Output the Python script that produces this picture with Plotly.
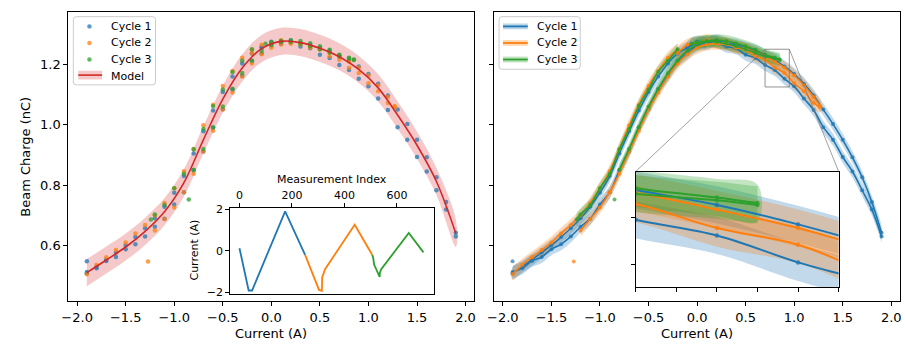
import plotly.graph_objects as go

# ---------------- data ----------------
model_I = [-1.9, -1.7, -1.5, -1.3, -1.1, -0.9, -0.7, -0.5, -0.3, -0.1,
           0.1, 0.3, 0.5, 0.7, 0.9, 1.1, 1.3, 1.5, 1.7, 1.9]
model_Q = [0.510, 0.552, 0.595, 0.647, 0.712, 0.808, 0.950, 1.085, 1.188, 1.252,
           1.276, 1.272, 1.253, 1.225, 1.183, 1.122, 1.032, 0.932, 0.812, 0.640]
model_band = 0.045      # half width of the model uncertainty band (nC)
fit_band = 0.02         # half width of the per-cycle fit bands (nC)

# Cycle 1
c1_a_I = [0.1, 0.0, -0.1, -0.2, -0.3, -0.4, -0.5, -0.6, -0.7, -0.8, -0.9, -1.0,
          -1.1, -1.2, -1.3, -1.4, -1.5, -1.6, -1.7, -1.8, -1.9]
c1_a_Q = [1.272, 1.270, 1.255, 1.236, 1.203, 1.160, 1.108, 1.047, 0.978, 0.905, 0.830, 0.775,
          0.728, 0.690, 0.657, 0.628, 0.601, 0.577, 0.553, 0.530, 0.508]
c1_b_I = [-1.9, -1.8, -1.7, -1.6, -1.5, -1.4, -1.3, -1.2, -1.1, -1.0, -0.9, -0.8, -0.7,
          -0.6, -0.5, -0.4, -0.3, -0.2, -0.1, 0.0, 0.1, 0.2, 0.3, 0.4, 0.5, 0.6, 0.7,
          0.8, 0.9, 1.0, 1.1, 1.2, 1.3, 1.4, 1.5, 1.6, 1.7, 1.8, 1.9]
c1_b_Q = [0.512, 0.525, 0.549, 0.562, 0.588, 0.604, 0.630, 0.662, 0.689, 0.736, 0.776, 0.849, 0.911,
          0.990, 1.051, 1.117, 1.162, 1.210, 1.236, 1.262, 1.268, 1.279, 1.270, 1.265, 1.255, 1.246, 1.230,
          1.214, 1.193, 1.168, 1.136, 1.097, 1.050, 1.002, 0.950, 0.892, 0.826, 0.744, 0.642]
c1_c_I = [1.9, 1.8, 1.7, 1.6, 1.5, 1.4, 1.3, 1.2, 1.1, 1.0, 0.9, 0.8, 0.7, 0.6, 0.5,
          0.4, 0.3, 0.2, 0.1, 0.0, -0.1]
c1_c_Q = [0.630, 0.719, 0.783, 0.845, 0.893, 0.950, 0.992, 1.049, 1.087, 1.127, 1.152, 1.181, 1.198,
          1.221, 1.232, 1.253, 1.259, 1.275, 1.273, 1.275, 1.257]

# Cycle 2
c2_a_I = [-0.2, -0.3, -0.4, -0.5, -0.6, -0.7, -0.8, -0.9, -1.0, -1.1, -1.2, -1.3,
          -1.4, -1.5, -1.6, -1.7, -1.8, -1.9]
c2_a_Q = [1.248, 1.222, 1.178, 1.128, 1.066, 0.998, 0.920, 0.846, 0.790, 0.741, 0.700, 0.668,
          0.640, 0.610, 0.585, 0.561, 0.536, 0.505]
c2_b_I = [-1.2, -1.1, -1.0, -0.9, -0.8, -0.7, -0.6, -0.5, -0.4, -0.3, -0.2, -0.1, 0.0,
          0.1, 0.2, 0.3, 0.4, 0.5, 0.6, 0.7, 0.8, 0.9, 1.0, 1.1, 1.2, 1.27]
c2_b_Q = [0.650, 0.688, 0.726, 0.776, 0.838, 0.911, 0.980, 1.050, 1.107, 1.160, 1.203, 1.233, 1.255,
          1.266, 1.268, 1.266, 1.259, 1.252, 1.240, 1.227, 1.209, 1.189, 1.163, 1.131, 1.092, 1.062]
c2_c_I = [1.27, 1.2, 1.1, 1.0, 0.9, 0.8, 0.7, 0.6, 0.5, 0.4, 0.3, 0.2, 0.1, 0.0, -0.1, -0.2]
c2_c_Q = [1.058, 1.072, 1.111, 1.137, 1.171, 1.189, 1.215, 1.227, 1.249, 1.255, 1.270, 1.272,
          1.280, 1.271, 1.265, 1.237]

# Cycle 3
c3_a_I = [-0.2, -0.3, -0.4, -0.5, -0.6, -0.7, -0.8, -0.9, -1.0, -1.1, -1.2, -1.24]
c3_a_Q = [1.250, 1.212, 1.175, 1.117, 1.062, 0.986, 0.919, 0.838, 0.790, 0.734, 0.703, 0.686]
c3_b_I = [-0.8, -0.7, -0.6, -0.5, -0.4, -0.3, -0.2, -0.1, 0.0, 0.1, 0.2, 0.3, 0.4,
          0.5, 0.6, 0.7, 0.8, 0.85]
c3_b_Q = [0.851, 0.920, 0.992, 1.060, 1.119, 1.171, 1.213, 1.245, 1.265, 1.276, 1.280, 1.277, 1.270,
          1.260, 1.248, 1.232, 1.222, 1.216]
c3_c_I = [0.85, 0.8, 0.7, 0.6, 0.5, 0.4, 0.3, 0.2, 0.1, 0.0, -0.06]
c3_c_Q = [1.214, 1.219, 1.226, 1.238, 1.250, 1.260, 1.268, 1.274, 1.277, 1.273, 1.268]

# first points after current jumps (outliers)
outlier_I = [-1.9, -1.27, -0.85]
outlier_Q = [0.548, 0.547, 0.752]
outlier_cycle = [0, 1, 2]

# current waveform vs. measurement index (inset)
c1_wave_idx = [0, 35, 48, 174, 250]
c1_wave_I = [0.13, -1.91, -1.91, 1.91, -0.19]
c2_wave_idx = [250, 303, 314, 315, 326, 439, 506]
c2_wave_I = [-0.19, -1.88, -1.92, -1.28, -0.88, 1.26, -0.20]
c3_wave_idx = [506, 509, 513, 534, 535, 540, 645, 701]
c3_wave_I = [-0.20, -0.31, -0.66, -1.25, -1.05, -0.88, 0.86, -0.07]

cycle_names = ["Cycle 1", "Cycle 2", "Cycle 3"]
cycle_sweeps = [
    [(c1_a_I, c1_a_Q), (c1_b_I, c1_b_Q), (c1_c_I, c1_c_Q)],
    [(c2_a_I, c2_a_Q), (c2_b_I, c2_b_Q), (c2_c_I, c2_c_Q)],
    [(c3_a_I, c3_a_Q), (c3_b_I, c3_b_Q), (c3_c_I, c3_c_Q)],
]
waves = [(c1_wave_idx, c1_wave_I), (c2_wave_idx, c2_wave_I), (c3_wave_idx, c3_wave_I)]

x_ticks = [-2.0, -1.5, -1.0, -0.5, 0.0, 0.5, 1.0, 1.5, 2.0]
x_ticklabels = ["\u22122.0", "\u22121.5", "\u22121.0", "\u22120.5", "0.0", "0.5", "1.0", "1.5", "2.0"]
y_ticks = [0.6, 0.8, 1.0, 1.2]
y_ticklabels = ["0.6", "0.8", "1.0", "1.2"]
inset_x_ticks = [0, 200, 400, 600]
inset_y_ticks = [-2, 0, 2]
inset_y_ticklabels = ["\u22122", "0", "2"]
zoom_x = [0.70, 0.95]
zoom_y = [1.125, 1.25]
zoom_x_ticks = [0.70, 0.75, 0.80, 0.85, 0.90, 0.95]
zoom_y_ticks = [1.15, 1.20]

# ---------------- styling ----------------
W, H = 905, 346
FONT = "DejaVu Sans"
COLORS = ["#1f77b4", "#ff7f0e", "#2ca02c"]
RGB = [(31, 119, 180), (255, 127, 14), (44, 160, 44)]
RED = "#d62728"
X_RANGE = [-2.09, 2.09]
Y_RANGE = [0.416, 1.374]


def dom_x(a, b):
    return [a / W, b / W]


def dom_y(top, bottom):
    return [1 - bottom / H, 1 - top / H]


def px(x):
    return x / W


def py(y):
    return 1 - y / H


D1X, D1Y = dom_x(62, 472), dom_y(8, 305)
D2X, D2Y = dom_x(492, 902), dom_y(8, 305)
D3X, D3Y = dom_x(225, 431), dom_y(209, 298)
D4X, D4Y = dom_x(635, 840), dom_y(172, 291)

fig = go.Figure()

# ---------- left panel ----------
band_x = model_I + model_I[::-1]
band_y = [q + model_band for q in model_Q] + [q - model_band for q in model_Q][::-1]
fig.add_trace(go.Scatter(x=band_x, y=band_y, mode="lines", fill="toself",
                         fillcolor="rgba(214,39,40,0.25)", line=dict(width=0, shape="spline"),
                         hoverinfo="skip", showlegend=False, xaxis="x", yaxis="y"))
for k, sweeps in enumerate(cycle_sweeps):
    xs, ys = [], []
    for I, Q in sweeps:
        xs += I
        ys += Q
    for I, Q, c in zip(outlier_I, outlier_Q, outlier_cycle):
        if c == k:
            xs.append(I)
            ys.append(Q)
    fig.add_trace(go.Scatter(x=xs, y=ys, mode="markers", name=cycle_names[k],
                             marker=dict(color=COLORS[k], size=4.5, opacity=0.75),
                             showlegend=False, xaxis="x", yaxis="y"))
fig.add_trace(go.Scatter(x=model_I, y=model_Q, mode="lines", name="Model",
                         line=dict(color=RED, width=1.6, shape="spline"),
                         showlegend=False, xaxis="x", yaxis="y"))

# ---------- right panel and its zoom inset ----------
for xa, ya, lw, ms in (("x2", "y2", 1.6, 4), ("x4", "y4", 2.0, 4.5)):
    # all uncertainty bands first
    for k, sweeps in enumerate(cycle_sweeps):
        r, g, b = RGB[k]
        for I, Q in sweeps:
            fig.add_trace(go.Scatter(
                x=I + I[::-1],
                y=[q + fit_band for q in Q] + [q - fit_band for q in Q][::-1],
                mode="lines", fill="toself", fillcolor=f"rgba({r},{g},{b},0.28)",
                line=dict(width=0, shape="spline"), hoverinfo="skip",
                showlegend=False, xaxis=xa, yaxis=ya))
    # then measurements and fitted lines
    for k, sweeps in enumerate(cycle_sweeps):
        for I, Q in sweeps:
            fig.add_trace(go.Scatter(
                x=I, y=Q, mode="lines+markers",
                line=dict(color=COLORS[k], width=lw, shape="spline"),
                marker=dict(color=COLORS[k], size=ms, opacity=0.8),
                showlegend=False, xaxis=xa, yaxis=ya))
        oi = [I for I, c in zip(outlier_I, outlier_cycle) if c == k]
        oq = [Q for Q, c in zip(outlier_Q, outlier_cycle) if c == k]
        fig.add_trace(go.Scatter(x=oi, y=oq, mode="markers",
                                 marker=dict(color=COLORS[k], size=ms, opacity=0.7),
                                 showlegend=False, xaxis=xa, yaxis=ya))

# ---------- waveform inset ----------
for k, (idx, cur) in enumerate(waves):
    fig.add_trace(go.Scatter(x=idx, y=cur, mode="lines",
                             line=dict(color=COLORS[k], width=1.8),
                             showlegend=False, xaxis="x3", yaxis="y3"))

# ---------------- axes ----------------
axis_common = dict(showline=True, linecolor="black", linewidth=1, mirror=True,
                   ticks="outside", ticklen=4, tickwidth=1, tickcolor="black",
                   showgrid=False, zeroline=False,
                   tickfont=dict(family=FONT, size=13, color="black"))
small_font = dict(family=FONT, size=11, color="black")

fig.update_layout(
    width=W, height=H, margin=dict(l=0, r=0, t=0, b=0),
    paper_bgcolor="white", plot_bgcolor="white", showlegend=False,
    xaxis=dict(axis_common, domain=D1X, range=X_RANGE, tickvals=x_ticks,
               ticktext=x_ticklabels, anchor="y"),
    yaxis=dict(axis_common, domain=D1Y, range=Y_RANGE, tickvals=y_ticks,
               ticktext=y_ticklabels, anchor="x"),
    xaxis2=dict(axis_common, domain=D2X, range=X_RANGE, tickvals=x_ticks,
                ticktext=x_ticklabels, anchor="y2"),
    yaxis2=dict(axis_common, domain=D2Y, range=Y_RANGE, tickvals=y_ticks,
                showticklabels=False, anchor="x2"),
    xaxis3=dict(axis_common, domain=D3X, range=[-37, 740], tickvals=inset_x_ticks,
                side="top", tickfont=small_font, ticklen=3.5, anchor="y3"),
    yaxis3=dict(axis_common, domain=D3Y, range=[-2.09, 2.09], tickvals=inset_y_ticks,
                ticktext=inset_y_ticklabels, tickfont=small_font, ticklen=3.5, anchor="x3"),
    xaxis4=dict(axis_common, domain=D4X, range=[zoom_x[0] - 1e-4, zoom_x[1] + 1e-4],
                tickvals=zoom_x_ticks, showticklabels=False, anchor="y4"),
    yaxis4=dict(axis_common, domain=D4Y, range=zoom_y, tickvals=zoom_y_ticks,
                showticklabels=False, anchor="x4"),
)

# ---------------- shapes: zoom indicator + connectors ----------------
def x2p(v):
    return D2X[0] + (v - X_RANGE[0]) / (X_RANGE[1] - X_RANGE[0]) * (D2X[1] - D2X[0])


def y2p(v):
    return D2Y[0] + (v - Y_RANGE[0]) / (Y_RANGE[1] - Y_RANGE[0]) * (D2Y[1] - D2Y[0])


shapes = [
    dict(type="rect", xref="x2", yref="y2", x0=zoom_x[0], x1=zoom_x[1], y0=zoom_y[0], y1=zoom_y[1],
         line=dict(color="rgba(120,120,120,0.8)", width=1)),
    dict(type="line", xref="paper", yref="paper", x0=x2p(zoom_x[0]), y0=y2p(zoom_y[1]),
         x1=D4X[0], y1=D4Y[1], line=dict(color="rgba(120,120,120,0.7)", width=1)),
    dict(type="line", xref="paper", yref="paper", x0=x2p(zoom_x[1]), y0=y2p(zoom_y[1]),
         x1=D4X[1], y1=D4Y[1], line=dict(color="rgba(120,120,120,0.7)", width=1)),
]


def rounded_box(x0, y0, x1, y1, r=3):
    p = (f"M {px(x0 + r)} {py(y0)} L {px(x1 - r)} {py(y0)} Q {px(x1)} {py(y0)} {px(x1)} {py(y0 + r)} "
         f"L {px(x1)} {py(y1 - r)} Q {px(x1)} {py(y1)} {px(x1 - r)} {py(y1)} "
         f"L {px(x0 + r)} {py(y1)} Q {px(x0)} {py(y1)} {px(x0)} {py(y1 - r)} "
         f"L {px(x0)} {py(y0 + r)} Q {px(x0)} {py(y0)} {px(x0 + r)} {py(y0)} Z")
    return dict(type="path", xref="paper", yref="paper", path=p,
                fillcolor="rgba(255,255,255,0.8)", line=dict(color="#cccccc", width=1))


annotations = []

# left legend
shapes.append(rounded_box(67, 13, 150, 83))
for k in range(3):
    yy = 23 + 17 * k
    shapes.append(dict(type="circle", xref="paper", yref="paper",
                       x0=px(81), x1=px(85.5), y0=py(yy + 2.25), y1=py(yy - 2.25),
                       fillcolor=COLORS[k], opacity=0.75, line=dict(width=0)))
    annotations.append(dict(x=px(103), y=py(yy), xref="paper", yref="paper", text=cycle_names[k],
                            showarrow=False, xanchor="left", yanchor="middle",
                            font=dict(family=FONT, size=11, color="black")))
shapes.append(dict(type="rect", xref="paper", yref="paper", x0=px(72), x1=px(96), y0=py(77.5), y1=py(68.5),
                   fillcolor="rgba(214,39,40,0.25)", line=dict(width=0)))
shapes.append(dict(type="line", xref="paper", yref="paper", x0=px(72), x1=px(96), y0=py(73), y1=py(73),
                   line=dict(color=RED, width=1.6)))
annotations.append(dict(x=px(103), y=py(74), xref="paper", yref="paper", text="Model",
                        showarrow=False, xanchor="left", yanchor="middle",
                        font=dict(family=FONT, size=11, color="black")))

# right legend
shapes.append(rounded_box(497, 13, 579, 67))
for k in range(3):
    yy = 23 + 17 * k
    r, g, b = RGB[k]
    shapes.append(dict(type="rect", xref="paper", yref="paper", x0=px(501), x1=px(526),
                       y0=py(yy + 3), y1=py(yy - 3),
                       fillcolor=f"rgba({r},{g},{b},0.3)", line=dict(width=0)))
    shapes.append(dict(type="line", xref="paper", yref="paper", x0=px(501), x1=px(526),
                       y0=py(yy), y1=py(yy), line=dict(color=COLORS[k], width=1.8)))
    annotations.append(dict(x=px(533), y=py(yy), xref="paper", yref="paper", text=cycle_names[k],
                            showarrow=False, xanchor="left", yanchor="middle",
                            font=dict(family=FONT, size=11, color="black")))

# axis titles
lab = dict(family=FONT, size=13, color="black")
annotations += [
    dict(x=px(267), y=py(338), xref="paper", yref="paper", text="Current (A)", showarrow=False,
         xanchor="center", yanchor="middle", font=lab),
    dict(x=px(697), y=py(338), xref="paper", yref="paper", text="Current (A)", showarrow=False,
         xanchor="center", yanchor="middle", font=lab),
    dict(x=px(19), y=py(157), xref="paper", yref="paper", text="Beam Charge (nC)", showarrow=False,
         xanchor="center", yanchor="middle", textangle=-90, font=lab),
    dict(x=px(328), y=py(180), xref="paper", yref="paper", text="Measurement Index", showarrow=False,
         xanchor="center", yanchor="middle", font=small_font),
    dict(x=px(189), y=py(253), xref="paper", yref="paper", text="Current (A)", showarrow=False,
         xanchor="center", yanchor="middle", textangle=-90, font=small_font),
]

fig.update_layout(shapes=shapes, annotations=annotations)
fig.write_html("out.html")
